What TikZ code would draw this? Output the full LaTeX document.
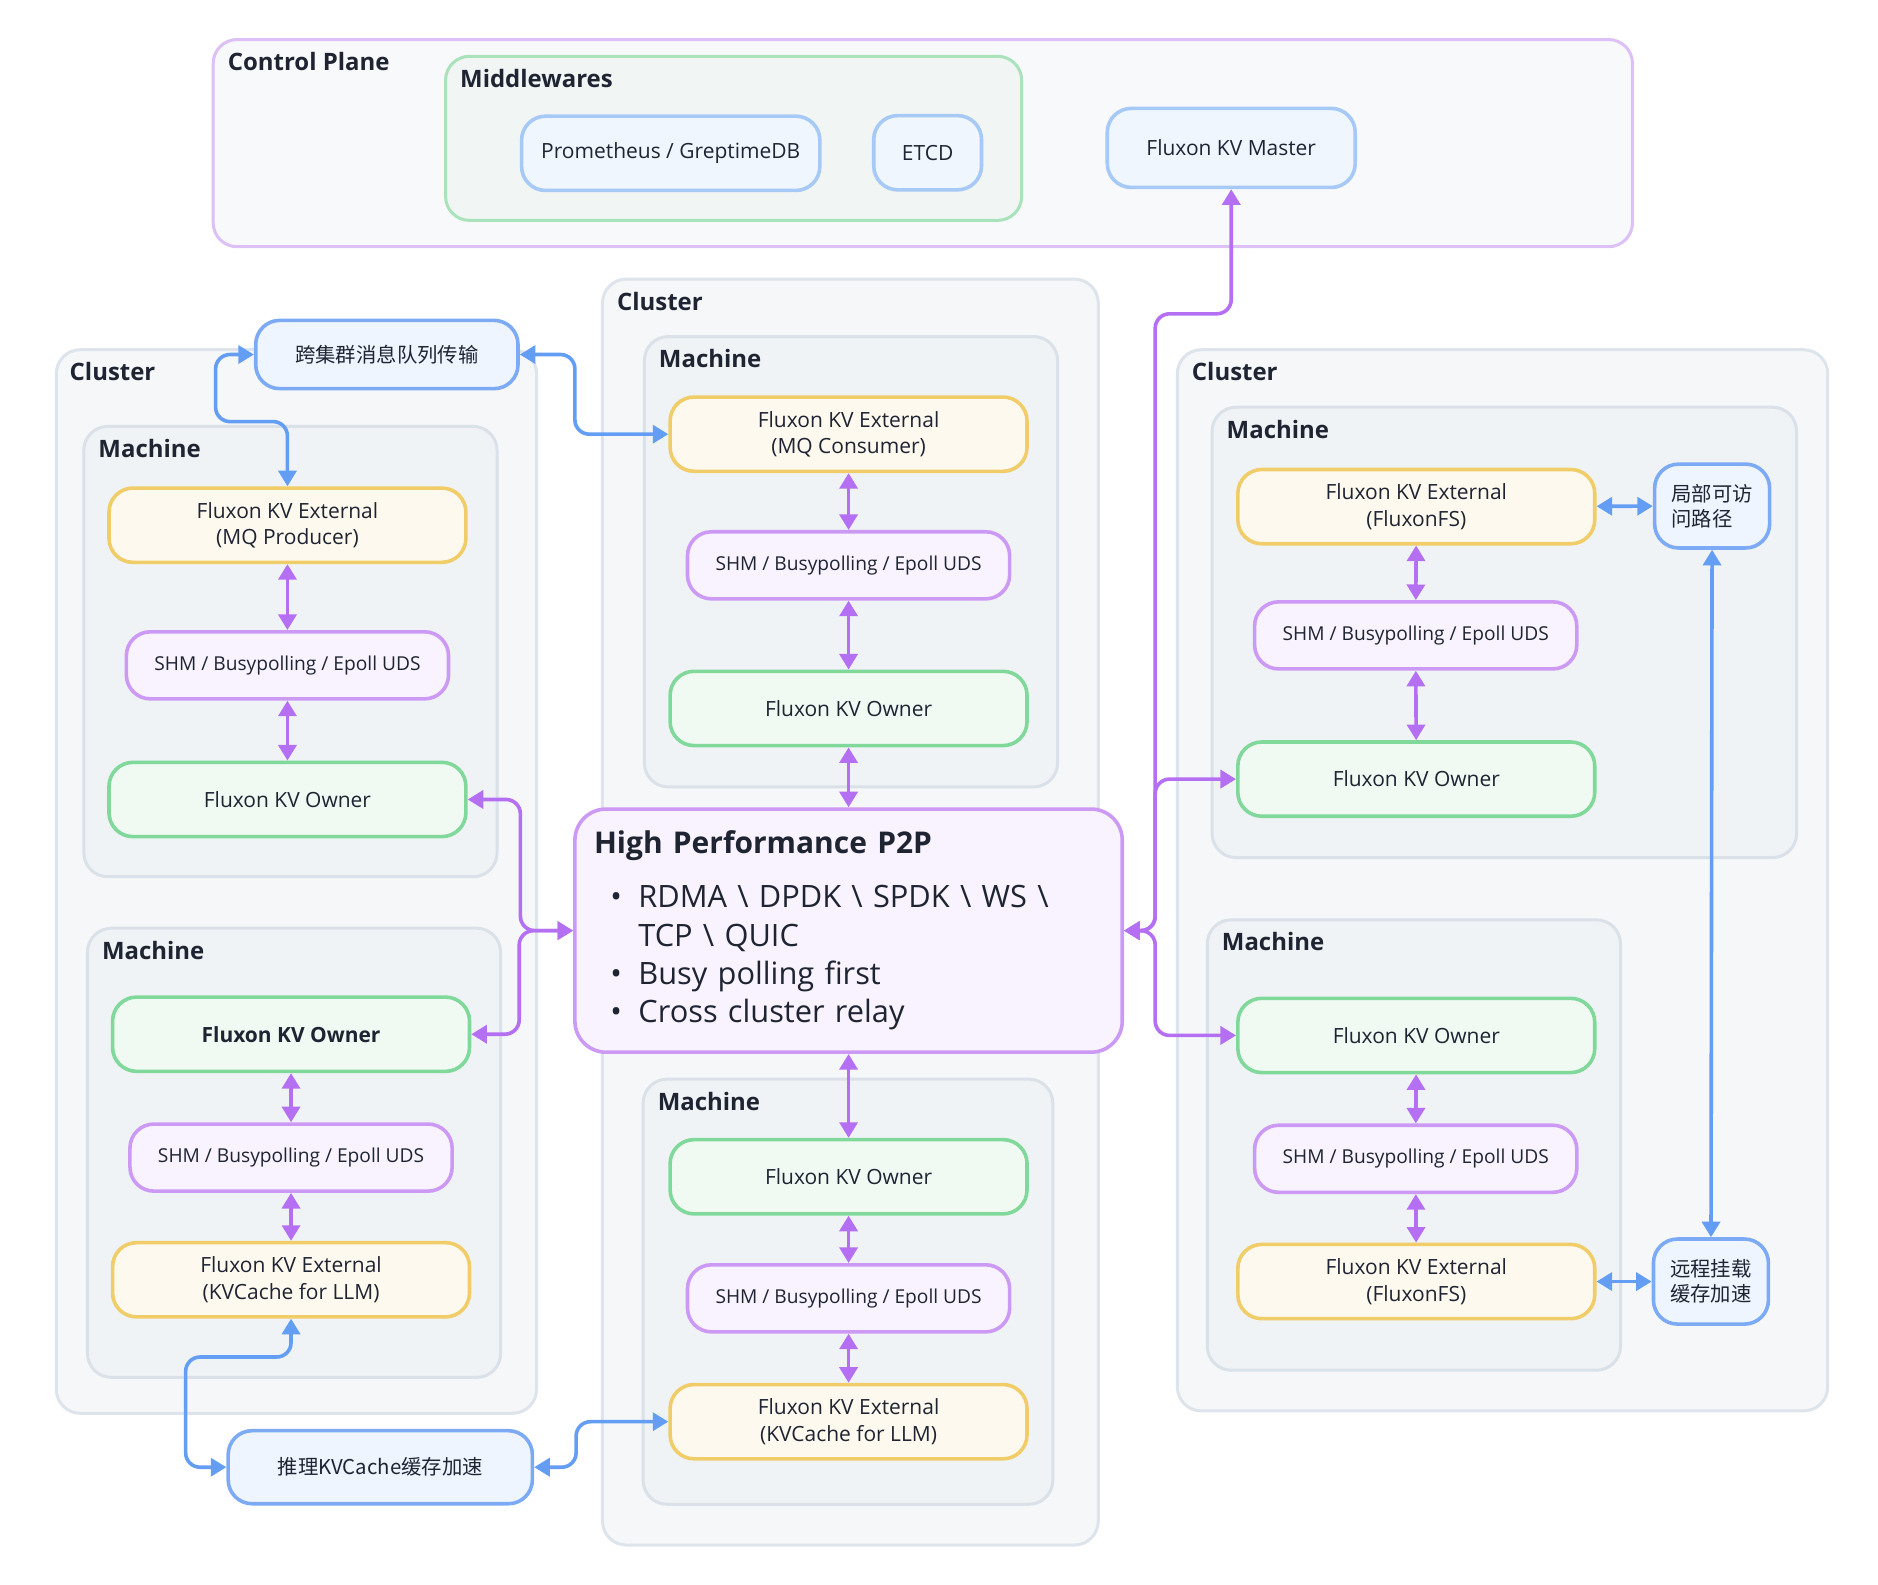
\documentclass[tikz,border=0pt]{standalone}
\usepackage{fontspec}
\setmainfont{Open Sans}
\newfontfamily\cjk{Noto Sans CJK SC}
\usetikzlibrary{arrows.meta}
\definecolor{ink}{HTML}{1F2433}
\definecolor{planeline}{HTML}{DCC0F7}
\definecolor{planefill}{HTML}{F8F9FB}
\definecolor{mwline}{HTML}{A9E2BB}
\definecolor{mwfill}{HTML}{F1F5F4}
\definecolor{clline}{HTML}{DEE4EB}
\definecolor{clfill}{HTML}{F5F7F8}
\definecolor{mline}{HTML}{DAE1E9}
\definecolor{mfill}{HTML}{EFF3F5}
\definecolor{extline}{HTML}{F0CD68}
\definecolor{extfill}{HTML}{FDF9EE}
\definecolor{shmline}{HTML}{CC9AF5}
\definecolor{shmfill}{HTML}{F8F3FE}
\definecolor{ownline}{HTML}{80D99B}
\definecolor{ownfill}{HTML}{F0FAF3}
\definecolor{svcline}{HTML}{A6C9F6}
\definecolor{svcfill}{HTML}{F0F6FE}
\definecolor{msgline}{HTML}{7CAAF4}
\definecolor{msgfill}{HTML}{EFF5FE}
\definecolor{plinkc}{HTML}{B56FF2}
\definecolor{blinkc}{HTML}{649EF4}
\tikzset{
  frame/.style={rounded corners=20pt,line width=2.5pt},
  title/.style={anchor=base west,inner sep=0pt,text=ink,font=\fontsize{20}{24}\selectfont\bfseries},
  box/.style={rounded corners=20pt,line width=3pt,align=center,inner sep=0pt,text=ink,font=\fontsize{17.5}{22}\selectfont},
  extbox/.style={box,draw=extline,fill=extfill,minimum width=298pt,minimum height=62pt},
  shmbox/.style={box,draw=shmline,fill=shmfill,minimum width=269pt,minimum height=56pt,font=\fontsize{16}{19}\selectfont},
  ownbox/.style={box,draw=ownline,fill=ownfill,minimum width=298pt,minimum height=62pt},
  svcbox/.style={box,draw=svcline,fill=svcfill,minimum height=62pt},
  msgbox/.style={box,draw=msgline,fill=msgfill,font=\cjk\fontsize{17}{21}\selectfont},
  p2pbox/.style={box,draw=shmline,fill=shmfill,rounded corners=26pt,align=left,text width=425pt,inner xsep=16pt,minimum height=203pt,font=\fontsize{25.7}{32}\selectfont},
  plink/.style={draw=plinkc,line width=3pt,rounded corners=12pt,>={Triangle[length=13pt,width=15pt]},<->},
  blink/.style={draw=blinkc,line width=3pt,rounded corners=12pt,>={Triangle[length=13pt,width=15pt]},<->}
}
\begin{document}
\begin{tikzpicture}[x=1pt,y=-1pt]
\path[use as bounding box,fill=white] (0,0) rectangle (1568,1323);
\draw[frame,draw=planeline,fill=planefill] (178,33) rectangle (1363,206);
\node[title] (tplane) at (190,59) {Control Plane};
\draw[frame,draw=mwline,fill=mwfill] (372,47) rectangle (853,184);
\node[title] (tmw) at (384,73) {Middlewares};
\draw[frame,draw=clline,fill=clfill] (47,292) rectangle (448,1180);
\node[title] (tlcl) at (58,318) {Cluster};
\draw[frame,draw=mline,fill=mfill] (70,356) rectangle (415,732);
\node[title] (tlm1) at (82,382) {Machine};
\draw[frame,draw=mline,fill=mfill] (73,775) rectangle (418,1150);
\node[title] (tlm2) at (85,801) {Machine};
\draw[frame,draw=clline,fill=clfill] (503,233) rectangle (917,1290);
\node[title] (tccl) at (515,259) {Cluster};
\draw[frame,draw=mline,fill=mfill] (538,281) rectangle (883,657);
\node[title] (tcm1) at (550,307) {Machine};
\draw[frame,draw=mline,fill=mfill] (537,901) rectangle (879,1256);
\node[title] (tcm2) at (549,927) {Machine};
\draw[frame,draw=clline,fill=clfill] (983,292) rectangle (1526,1178);
\node[title] (trcl) at (995,318) {Cluster};
\draw[frame,draw=mline,fill=mfill] (1012,340) rectangle (1500,716);
\node[title] (trm1) at (1024,366) {Machine};
\draw[frame,draw=mline,fill=mfill] (1008,768) rectangle (1353,1144);
\node[title] (trm2) at (1020,794) {Machine};
\node[svcbox,minimum width=249pt] (prom) at (560,128) {Prometheus / GreptimeDB};
\node[svcbox,minimum width=90pt] (etcd) at (774.5,127.5) {ETCD};
\node[svcbox,minimum width=207pt,minimum height=66pt] (master) at (1028,123.5) {Fluxon KV Master};
\node[msgbox,minimum width=219pt,minimum height=57pt] (mq) at (323,296) {跨集群消息队列传输};
\node[msgbox,minimum width=254pt,minimum height=61pt] (infer) at (317.5,1225) {推理KVCache缓存加速};
\node[extbox] (lprod) at (240,438.5) {Fluxon KV External\\(MQ Producer)};
\node[shmbox] (lshm1) at (240,555.5) {SHM / Busypolling / Epoll UDS};
\node[ownbox] (lown1) at (240,667.5) {Fluxon KV Owner};
\node[ownbox,font=\fontsize{17.5}{22}\selectfont\bfseries] (lown2) at (243,863.5) {Fluxon KV Owner};
\node[shmbox] (lshm2) at (243,966.5) {SHM / Busypolling / Epoll UDS};
\node[extbox] (lkv) at (243,1068.5) {Fluxon KV External\\(KVCache for LLM)};
\node[extbox] (ccons) at (708.5,362.5) {Fluxon KV External\\(MQ Consumer)};
\node[shmbox] (cshm1) at (708.5,472) {SHM / Busypolling / Epoll UDS};
\node[ownbox] (cown1) at (708.5,591.5) {Fluxon KV Owner};
\node[p2pbox] (p2p) at (708.5,777) {{\fontsize{25}{30}\selectfont\bfseries High Performance P2P}\\[13pt]
\makebox[37pt][c]{\textbullet}RDMA \textbackslash{} DPDK \textbackslash{} SPDK \textbackslash{} WS \textbackslash\\
\hspace*{37pt}TCP \textbackslash{} QUIC\\
\makebox[37pt][c]{\textbullet}Busy polling first\\
\makebox[37pt][c]{\textbullet}Cross cluster relay\\[-10pt]};
\node[ownbox] (cown2) at (708.5,982.5) {Fluxon KV Owner};
\node[shmbox] (cshm2) at (708.5,1084) {SHM / Busypolling / Epoll UDS};
\node[extbox] (ckv) at (708.5,1187) {Fluxon KV External\\(KVCache for LLM)};
\node[extbox] (rfs1) at (1182.5,423) {Fluxon KV External\\(FluxonFS)};
\node[shmbox] (rshm1) at (1182,530.5) {SHM / Busypolling / Epoll UDS};
\node[ownbox] (rown1) at (1182.5,650.5) {Fluxon KV Owner};
\node[msgbox,minimum width=96pt,minimum height=70pt,align=left] (local) at (1429.5,422.5) {局部可访\\问路径};
\node[ownbox] (rown2) at (1182.5,864.5) {Fluxon KV Owner};
\node[shmbox] (rshm2) at (1182,967.5) {SHM / Busypolling / Epoll UDS};
\node[extbox] (rfs2) at (1182.5,1070) {Fluxon KV External\\(FluxonFS)};
\node[msgbox,minimum width=96pt,minimum height=71pt,align=left] (remote) at (1428.5,1070) {远程挂载\\缓存加速};
\draw[plink] (lprod) -- (lshm1);
\draw[plink] (lshm1) -- (lown1);
\draw[plink] (lown2) -- (lshm2);
\draw[plink] (lshm2) -- (lkv);
\draw[plink] (ccons) -- (cshm1);
\draw[plink] (cshm1) -- (cown1);
\draw[plink] (cown1) -- (p2p);
\draw[plink] (p2p) -- (cown2);
\draw[plink] (cown2) -- (cshm2);
\draw[plink] (cshm2) -- (ckv);
\draw[plink] (rfs1) -- (rshm1);
\draw[plink] (rshm1) -- (rown1);
\draw[plink] (rown2) -- (rshm2);
\draw[plink] (rshm2) -- (rfs2);
\draw[plink] (lown1.east) -- ++(44,0) |- (p2p.west);
\draw[plink] (lown2.east) -- ++(40,0) |- (p2p.west);
\draw[plink] (p2p.east) -- ++(26,0) |- (rown1.west);
\draw[plink] (p2p.east) -- ++(26,0) |- (rown2.west);
\draw[plink] (p2p.east) -- ++(26,0) |- ([yshift=-104pt]master.south) -- (master.south);
\draw[blink] (mq.west) -- ++(-32,0) |- ([yshift=54pt]lprod.north) -- (lprod.north);
\draw[blink] (mq.east) -- ++(46,0) |- (ccons.west);
\draw[blink] (infer.west) -- ++(-34,0) |- ([yshift=-32pt]lkv.south) -- (lkv.south);
\draw[blink] (infer.east) -- ++(35,0) |- (ckv.west);
\draw[blink] (rfs1) -- (local);
\draw[blink] (rfs2) -- (remote);
\draw[blink] (local) -- (remote);
\end{tikzpicture}
\end{document}
